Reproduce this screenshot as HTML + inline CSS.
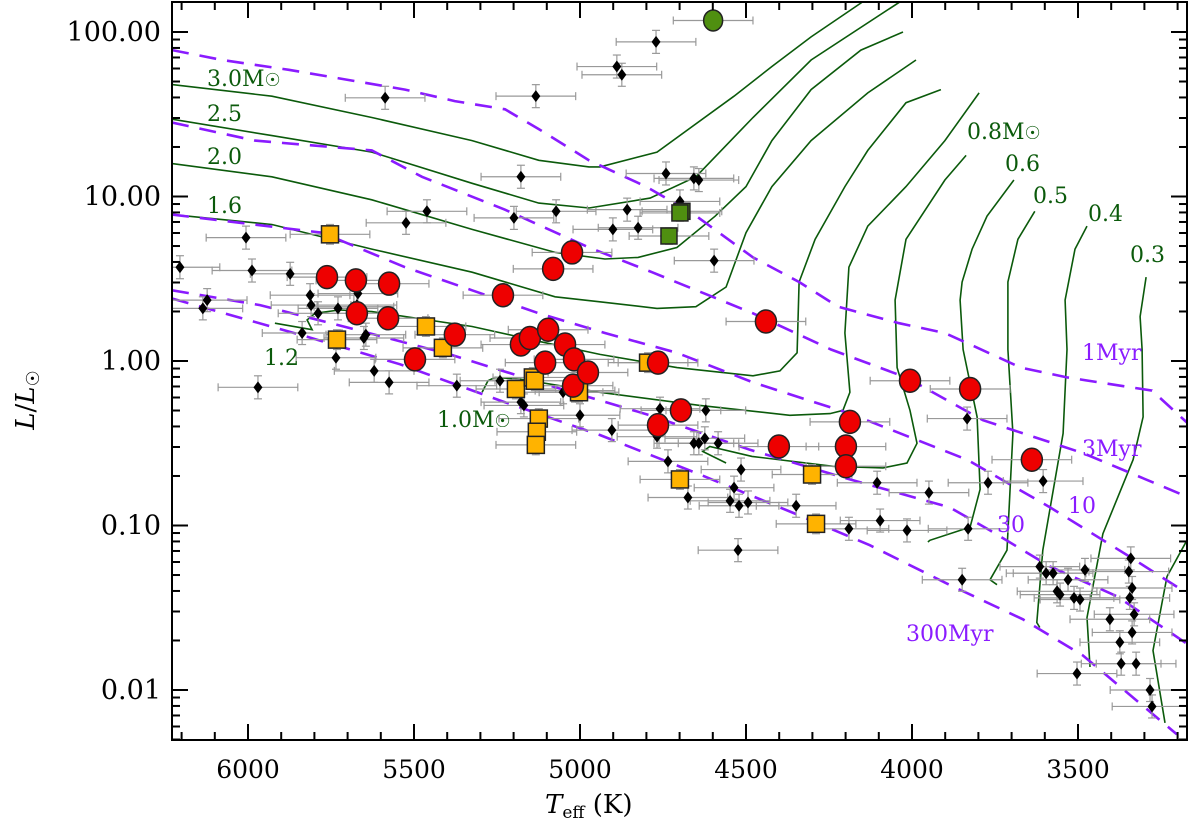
<!DOCTYPE html>
<html><head><meta charset="utf-8"><style>
html,body{margin:0;padding:0;background:#fff;}
svg{display:block;font-family:"DejaVu Serif","Liberation Serif",serif;}
</style></head><body>
<svg id="chart" width="1200" height="832" viewBox="0 0 1200 832" xmlns="http://www.w3.org/2000/svg">
<g id="tracks"></g>
<g id="isos"></g>
<g id="errs"></g>
<g id="marks"></g>
<g id="axes"></g>
<g id="labels" font-size="22">
<text x="207" y="86" fill="#0b5a0b">3.0M<tspan font-size="18">☉</tspan></text>
<text x="207" y="121" fill="#0b5a0b">2.5</text>
<text x="207" y="164" fill="#0b5a0b">2.0</text>
<text x="207" y="213" fill="#0b5a0b">1.6</text>
<text x="264" y="365" fill="#0b5a0b">1.2</text>
<text x="437" y="427" fill="#0b5a0b">1.0M<tspan font-size="18">☉</tspan></text>
<text x="967" y="139" fill="#0b5a0b">0.8M<tspan font-size="18">☉</tspan></text>
<text x="1005" y="171" fill="#0b5a0b">0.6</text>
<text x="1033" y="203" fill="#0b5a0b">0.5</text>
<text x="1088" y="221" fill="#0b5a0b">0.4</text>
<text x="1130" y="262" fill="#0b5a0b">0.3</text>
<text x="1082" y="360" fill="#8a1bff">1Myr</text>
<text x="1082" y="456" fill="#8a1bff">3Myr</text>
<text x="1068" y="513" fill="#8a1bff">10</text>
<text x="997" y="532" fill="#8a1bff">30</text>
<text x="906" y="641" fill="#8a1bff">300Myr</text>
</g>
<text x="545" y="813" font-size="26"><tspan font-style="italic">T</tspan><tspan font-size="17" dy="5">eff</tspan><tspan dy="-5"> (K)</tspan></text>
<text transform="translate(34,400) rotate(-90)" font-size="26" text-anchor="middle"><tspan font-style="italic">L</tspan>/<tspan font-style="italic">L</tspan><tspan font-size="18" dy="5">☉</tspan></text>
</svg>
<script>
// ---- data ----
const trackNames=["3.0","2.5","2.0","1.6","1.2","1.0","0.8","0.6","0.5","0.4","0.3","0.2"];
const trackT=[
[6229,5928,5627,5325,5124,4973,4940,4768,4536,4422,4304,4151],
[6229,5928,5627,5325,5124,4973,4789,4651,4479,4304,4039],
[6229,5928,5627,5325,5075,4925,4825,4708,4593,4500,4422,4304,4154,4027],
[6229,5928,5627,5325,5075,4940,4768,4651,4560,4500,4422,4304,4133,3988],
[5919,5807,5822,5798,5726,5627,5325,5124,4940,4708,4479,4398,4346,4340,4292,4202,4133,4018,3913],
[5295,5277,5256,5181,4940,4639,4368,4247,4208,4187,4202,4190,4133,4018,3901,3798],
[4560,4630,4609,4482,4238,4087,4015,3985,4006,4045,4051,4018,3901,3837],
[3952,3946,3825,3795,3804,3846,3855,3849,3819,3774,3693],
[3744,3765,3714,3696,3711,3711,3681,3630],
[3615,3624,3606,3545,3533,3539,3509,3473],
[3464,3473,3425,3334,3304,3307,3313,3295],
[3238,3274,3232,3142]];
const trackLogL=[
[1.68,1.61,1.48,1.34,1.22,1.18,1.18,1.27,1.61,1.79,1.97,2.18],
[1.47,1.37,1.27,1.08,0.96,0.93,0.99,1.12,1.48,1.83,2.18],
[1.20,1.12,0.98,0.80,0.66,0.62,0.63,0.69,0.88,1.06,1.34,1.65,1.89,2.00],
[0.89,0.83,0.68,0.54,0.39,0.36,0.32,0.33,0.45,0.78,1.06,1.34,1.63,1.83],
[0.23,0.19,0.25,0.29,0.31,0.30,0.21,0.12,0.04,-0.04,-0.09,-0.06,0.05,0.48,0.74,1.06,1.28,1.57,1.65],
[-0.19,-0.12,-0.10,-0.11,-0.19,-0.27,-0.33,-0.32,-0.30,-0.19,0.17,0.57,0.82,1.06,1.34,1.63],
[-0.62,-0.55,-0.52,-0.58,-0.64,-0.65,-0.62,-0.50,-0.30,-0.04,0.37,0.74,1.10,1.25],
[-1.10,-1.09,-1.01,-0.78,-0.34,0.07,0.37,0.48,0.68,0.88,1.10],
[-1.36,-1.33,-1.15,-0.44,0.07,0.48,0.74,0.91],
[-1.62,-1.59,-1.15,-0.44,0.07,0.37,0.68,0.82],
[-1.86,-1.56,-1.05,-0.60,-0.34,0.07,0.27,0.51],
[-2.20,-1.76,-1.31,-0.98]];
const isoNames=["1Myr","3Myr","10Myr","30Myr","300Myr"];
const isoT=[
[6229,6078,5877,5527,5377,5226,5124,4973,4801,4663,4479,4340,4223,4039,3901,3672,3533,3277,3163],
[6229,5979,5627,5476,5226,4973,4783,4479,4244,4018,3786,3485,3142],
[6229,5777,5527,5325,5124,4925,4708,4479,4187,3834,3584,3344,3142],
[6229,5964,5693,5392,5090,4789,4488,4187,3886,3765,3584,3383,3142],
[6229,5843,5542,5241,4940,4639,4338,4127,3888,3666,3485,3202]];
const isoLogL=[
[1.89,1.83,1.77,1.65,1.58,1.53,1.41,1.22,1.06,0.90,0.63,0.48,0.33,0.23,0.17,-0.04,-0.10,-0.18,-0.39],
[1.45,1.34,1.28,1.12,0.92,0.69,0.54,0.29,0.07,-0.10,-0.36,-0.56,-0.85],
[0.89,0.78,0.57,0.43,0.29,0.17,0.05,-0.13,-0.32,-0.60,-0.89,-1.19,-1.45],
[0.43,0.34,0.20,0.04,-0.15,-0.33,-0.54,-0.72,-0.89,-1.03,-1.25,-1.43,-1.76],
[0.38,0.16,-0.02,-0.24,-0.45,-0.69,-0.94,-1.12,-1.36,-1.57,-1.79,-2.27]];
const diamondT=[6205,6006,5988,6123,6136,5873,5524,5461,5587,5133,5178,5072,5199,4901,4825,4858,4741,4657,4642,4771,4889,4874,4699,4596,5813,5789,5681,5669,5672,5729,5837,5645,5651,5620,5575,5735,5810,5970,5371,5241,5178,5169,5015,5051,5000,4904,4768,4759,4657,4642,4624,4584,4621,4675,4735,4515,4536,4548,4521,4494,4524,4349,4190,4105,4096,4015,3949,3831,3849,3771,3834,3605,3615,3596,3575,3563,3554,3512,3494,3479,3530,3404,3374,3344,3341,3347,3331,3337,3325,3370,3503,3283,3277,3337];
const diamondLogL=[0.57,0.75,0.55,0.37,0.32,0.53,0.84,0.91,1.60,1.61,1.12,0.91,0.87,0.80,0.81,0.92,1.14,1.11,1.10,1.94,1.79,1.74,0.97,0.61,0.40,0.29,0.33,0.41,0.34,0.32,0.17,0.16,0.14,-0.06,-0.13,0.02,0.34,-0.16,-0.15,-0.12,-0.25,-0.27,-0.18,-0.19,-0.33,-0.42,-0.46,-0.29,-0.50,-0.50,-0.47,-0.50,-0.30,-0.83,-0.61,-0.66,-0.77,-0.85,-0.88,-0.86,-1.15,-0.88,-1.02,-0.74,-0.97,-1.03,-0.80,-1.02,-1.33,-0.74,-0.35,-0.73,-1.25,-1.29,-1.29,-1.40,-1.42,-1.44,-1.45,-1.27,-1.33,-1.57,-1.71,-1.44,-1.20,-1.28,-1.54,-1.65,-1.84,-1.84,-1.90,-2.00,-2.10,-1.38];
const circleT=[5762,5675,5575,5672,5578,5497,5377,5232,5178,5151,5096,5105,5045,5018,5021,4976,5081,5024,4765,4765,4696,4440,4401,4187,4199,4199,4006,3825,3639];
const circleLogL=[0.51,0.49,0.47,0.29,0.26,0.01,0.16,0.40,0.10,0.14,0.19,-0.01,0.10,0.01,-0.15,-0.07,0.56,0.66,-0.01,-0.39,-0.30,0.24,-0.52,-0.37,-0.52,-0.64,-0.12,-0.17,-0.60];
const squareT=[5753,5732,5464,5413,5193,5142,5136,5124,5130,5133,5003,4795,4699,4301,4289];
const squareLogL=[0.77,0.13,0.21,0.08,-0.17,-0.10,-0.12,-0.35,-0.43,-0.51,-0.19,-0.01,-0.72,-0.69,-0.99];
const greenSqT=[4693,4732,4699];
const greenSqLogL=[0.91,0.76,0.90];
const greenCircT=[4599];
const greenCircLogL=[2.07];
const xTicks=[6000,5500,5000,4500,4000,3500];
const yTicks=[2,1,0,-1,-2];
const yTickLabels=["100.00","10.00","1.00","0.10","0.01"];

// ---- scales ----
const X0=172,X1=1187,Y0=2,Y1=740;
const x=T=>248+(6000-T)*0.332;
const y=lg=>361-164.5*lg;
const NS="http://www.w3.org/2000/svg";
function mk(tag,parent,attrs){const e=document.createElementNS(NS,tag);for(const k in attrs)e.setAttribute(k,attrs[k]);parent.appendChild(e);return e;}
const svg=document.getElementById('chart');
const defs=mk('defs',svg,{});
const cp=mk('clipPath',defs,{id:'clip'});
mk('rect',cp,{x:X0,y:Y0,width:X1-X0,height:Y1-Y0});
['tracks','isos','errs','marks'].forEach(id=>document.getElementById(id).setAttribute('clip-path','url(#clip)'));

const gT=document.getElementById('tracks');
trackT.forEach((ts,i)=>{
  const d=ts.map((t,j)=>(j?'L':'M')+x(t).toFixed(1)+','+y(trackLogL[i][j]).toFixed(1)).join(' ');
  const p=mk('path',gT,{d:d,fill:'none',stroke:'#0b5a0b','stroke-width':1.6});
  
  
});
const gI=document.getElementById('isos');
isoT.forEach((ts,i)=>{
  const d=ts.map((t,j)=>(j?'L':'M')+x(t).toFixed(1)+','+y(isoLogL[i][j]).toFixed(1)).join(' ');
  const p=mk('path',gI,{d:d,fill:'none',stroke:'#8a1bff','stroke-width':2.6,'stroke-dasharray':'17,11'});
  
  
});
const gE=document.getElementById('errs');
function err(t,lg,dT,dL){
  const g=mk('g',gE,{stroke:'#999','stroke-width':1.2});
  
  
  const cx=x(t),cy=y(lg),a=x(t+dT),b=x(t-dT),c=y(lg+dL),e=y(lg-dL);
  mk('line',g,{x1:a,y1:cy,x2:b,y2:cy});mk('line',g,{x1:a,y1:cy-4,x2:a,y2:cy+4});mk('line',g,{x1:b,y1:cy-4,x2:b,y2:cy+4});
  mk('line',g,{x1:cx,y1:c,x2:cx,y2:e});mk('line',g,{x1:cx-4,y1:c,x2:cx+4,y2:c});mk('line',g,{x1:cx-4,y1:e,x2:cx+4,y2:e});
}
diamondT.forEach((t,i)=>err(t,diamondLogL[i],120,0.07));
circleT.forEach((t,i)=>err(t,circleLogL[i],120,0.06));
squareT.forEach((t,i)=>err(t,squareLogL[i],120,0.06));
greenSqT.forEach((t,i)=>err(t,greenSqLogL[i],120,0.05));
greenCircT.forEach((t,i)=>err(t,greenCircLogL[i],120,0.03));

const gM=document.getElementById('marks');
diamondT.forEach((t,i)=>{const cx=x(t),cy=y(diamondLogL[i]);
  const p=mk('polygon',gM,{points:`${cx},${cy-6} ${cx+4.5},${cy} ${cx},${cy+6} ${cx-4.5},${cy}`,fill:'#000'});
  
  });
squareT.forEach((t,i)=>{const cx=x(t),cy=y(squareLogL[i]);
  const p=mk('rect',gM,{x:cx-8.5,y:cy-8.5,width:17,height:17,fill:'#ffb300',stroke:'#222','stroke-width':1.5});
  
  });
greenSqT.forEach((t,i)=>{const cx=x(t),cy=y(greenSqLogL[i]);
  const p=mk('rect',gM,{x:cx-8,y:cy-8,width:16,height:16,fill:'#4f8f10',stroke:'#222','stroke-width':1.5});
  
  });
circleT.forEach((t,i)=>{
  const p=mk('ellipse',gM,{cx:x(circleT[i]),cy:y(circleLogL[i]),rx:10.5,ry:11.5,fill:'#ee0000',stroke:'#222','stroke-width':1.5});
  
  });
greenCircT.forEach((t,i)=>{
  const p=mk('ellipse',gM,{cx:x(t),cy:y(greenCircLogL[i]),rx:9.5,ry:10.5,fill:'#4f8f10',stroke:'#222','stroke-width':1.5});
  
  });

// ---- axes ----
const gA=document.getElementById('axes');
mk('rect',gA,{x:X0,y:Y0,width:X1-X0,height:Y1-Y0,fill:'none',stroke:'#000','stroke-width':2});
for(let T=6200;T>=3200;T-=100){const px=x(T);if(px<X0||px>X1)continue;
  const L=(T%500===0)?16:8;
  mk('line',gA,{x1:px,y1:Y1,x2:px,y2:Y1-L,stroke:'#000','stroke-width':2});
  mk('line',gA,{x1:px,y1:Y0,x2:px,y2:Y0+L,stroke:'#000','stroke-width':2});}
xTicks.forEach(T=>{const t=mk('text',gA,{x:x(T),y:778,'text-anchor':'middle','font-size':25});t.textContent=T;
  
  });
for(let dcd=-3;dcd<=2;dcd++){for(let m=1;m<10;m++){const py=y(dcd+Math.log10(m));if(py<Y0||py>Y1)continue;
  const L=m===1?16:8;
  mk('line',gA,{x1:X0,y1:py,x2:X0+L,y2:py,stroke:'#000','stroke-width':2});
  mk('line',gA,{x1:X1,y1:py,x2:X1-L,y2:py,stroke:'#000','stroke-width':2});}}
yTicks.forEach((v,i)=>{const t=mk('text',gA,{x:161,y:y(v)+9,'text-anchor':'end','font-size':27});t.textContent=yTickLabels[i];
  
  });
</script>
</body></html>
